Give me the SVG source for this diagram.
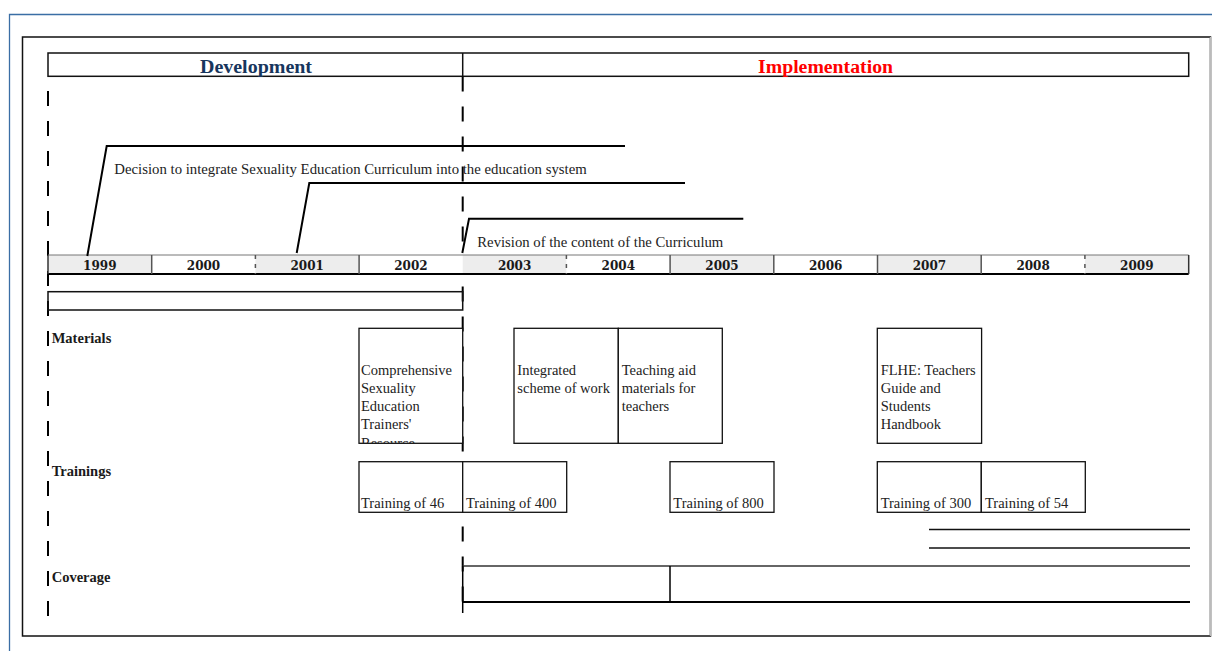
<svg xmlns="http://www.w3.org/2000/svg" width="1212" height="651" viewBox="0 0 1212 651">
<style>
.t{font-family:"Liberation Serif","Times New Roman",serif;font-size:14.5px;fill:#222}
.lb{font-family:"Liberation Serif","Times New Roman",serif;font-size:14.5px;font-weight:bold;fill:#1a1a1a}
.yr{font-family:"DejaVu Serif","Liberation Serif",serif;font-size:12px;font-weight:bold;fill:#1a1a1a;text-anchor:middle}
.hd{font-family:"Liberation Serif","Times New Roman",serif;font-size:18px;font-weight:bold;text-anchor:middle}
.box{fill:#fff;stroke:#111;stroke-width:1.3}
.dash{stroke:#000;stroke-width:2;fill:none;stroke-dasharray:15 15}
.call{stroke:#000;stroke-width:2;fill:none}
.sep{stroke:#555;stroke-width:1.5}
.ln{stroke:#111;stroke-width:1.5;fill:none}
</style>
<defs>
<clipPath id="cpComp"><rect x="359" y="328" width="104" height="115"/></clipPath>
</defs>
<rect x="0" y="0" width="1212" height="651" fill="#fff"/>
<!-- outer frames -->
<path d="M1212 14.5 H9.5 V651" fill="none" stroke="#3a6ea5" stroke-width="1.3"/>
<rect x="22.5" y="37" width="1188" height="599" fill="none" stroke="#111" stroke-width="1.5"/>
<line x1="1210.5" y1="37" x2="1210.5" y2="636" stroke="#bbb" stroke-width="1.5"/>

<!-- header -->
<g id="header">
<rect x="48" y="53" width="1140.7" height="23.3" fill="#fff" stroke="#111" stroke-width="1.5"/>
<line x1="462.7" y1="53" x2="462.7" y2="76.3" stroke="#111" stroke-width="1.5"/>
<text class="hd" x="256" y="72.7" fill="#17365d" textLength="112" lengthAdjust="spacingAndGlyphs">Development</text>
<text class="hd" x="825.5" y="72.7" fill="#ff0000" textLength="135" lengthAdjust="spacingAndGlyphs">Implementation</text>
</g>

<!-- dashed guides -->
<g id="guides">
<line class="dash" x1="48" y1="91" x2="48" y2="622"/>
<line class="dash" x1="462.7" y1="76.5" x2="462.7" y2="613"/>
</g>

<!-- timeline -->
<g id="timeline">
<rect x="48" y="255" width="1140.7" height="19" fill="#fff"/>
<rect x="48" y="255" width="103.7" height="19" fill="#ededed"/>
<rect x="255.4" y="255" width="103.7" height="19" fill="#ededed"/>
<rect x="462.7" y="255" width="103.7" height="19" fill="#ededed"/>
<rect x="670.1" y="255" width="103.7" height="19" fill="#ededed"/>
<rect x="877.5" y="255" width="103.7" height="19" fill="#ededed"/>
<rect x="1084.9" y="255" width="103.7" height="19" fill="#ededed"/>
<line x1="48" y1="255" x2="1188.7" y2="255" stroke="#777" stroke-width="1"/>
<line x1="48" y1="274" x2="1188.7" y2="274" stroke="#000" stroke-width="2"/>
<line x1="48" y1="255" x2="48" y2="274" stroke="#333" stroke-width="1.5"/>
<line x1="1188.7" y1="255" x2="1188.7" y2="274" stroke="#333" stroke-width="1.5"/>
<line class="sep" x1="151.7" y1="255" x2="151.7" y2="274"/>
<line class="sep" x1="255.4" y1="255" x2="255.4" y2="274" stroke-dasharray="4 5"/>
<line class="sep" x1="359.1" y1="255" x2="359.1" y2="274"/>
<line class="sep" x1="566.4" y1="255" x2="566.4" y2="274" stroke-dasharray="4 5"/>
<line class="sep" x1="670.1" y1="255" x2="670.1" y2="274"/>
<line class="sep" x1="773.8" y1="255" x2="773.8" y2="274"/>
<line class="sep" x1="877.5" y1="255" x2="877.5" y2="274"/>
<line class="sep" x1="981.2" y1="255" x2="981.2" y2="274"/>
<line class="sep" x1="1084.9" y1="255" x2="1084.9" y2="274" stroke-dasharray="4 5"/>
<text class="yr" x="99.8" y="269.5">1999</text>
<text class="yr" x="203.5" y="269.5">2000</text>
<text class="yr" x="307.2" y="269.5">2001</text>
<text class="yr" x="410.9" y="269.5">2002</text>
<text class="yr" x="514.6" y="269.5">2003</text>
<text class="yr" x="618.3" y="269.5">2004</text>
<text class="yr" x="722" y="269.5">2005</text>
<text class="yr" x="825.7" y="269.5">2006</text>
<text class="yr" x="929.4" y="269.5">2007</text>
<text class="yr" x="1033.1" y="269.5">2008</text>
<text class="yr" x="1136.8" y="269.5">2009</text>
</g>

<!-- callout connectors -->
<g id="connectors">
<path class="call" d="M87.3 256 L106.7 146 H625"/>
<path class="call" d="M296.7 253 L309.3 183 H685"/>
<path class="call" d="M462.3 253 L469 218.7 H743.3"/>
</g>
<g id="callout-texts">
<text class="t" x="114.3" y="174.3" textLength="472.4" lengthAdjust="spacingAndGlyphs">Decision to integrate Sexuality Education Curriculum into the education system</text>
<text class="t" x="477.3" y="246.7" textLength="246" lengthAdjust="spacingAndGlyphs">Revision of the content of the Curriculum</text>
</g>

<!-- development band -->
<g id="dev-band">
<rect x="48" y="291.7" width="414.7" height="18.3" fill="none" stroke="#111" stroke-width="1.5"/>
</g>

<!-- row labels -->
<g id="labels">
<text class="lb" x="51.7" y="343.3">Materials</text>
<text class="lb" x="51.7" y="475.5">Trainings</text>
<text class="lb" x="51.7" y="582">Coverage</text>
</g>

<!-- materials -->
<g id="mat-comprehensive">
<rect class="box" x="359" y="328.3" width="103.7" height="115"/>
<g clip-path="url(#cpComp)">
<text class="t" x="361" y="375">Comprehensive</text>
<text class="t" x="361" y="393.3">Sexuality</text>
<text class="t" x="361" y="411.3">Education</text>
<text class="t" x="361" y="429.3">Trainers'</text>
<text class="t" x="361" y="447.5">Resource</text>
</g>
</g>
<g id="mat-integrated">
<rect class="box" x="514" y="328.3" width="104.3" height="115"/>
<text class="t" x="517.3" y="375">Integrated</text>
<text class="t" x="517.3" y="393.3">scheme of work</text>
</g>
<g id="mat-teaching">
<rect class="box" x="618.3" y="328.3" width="104" height="115"/>
<text class="t" x="621.7" y="375">Teaching aid</text>
<text class="t" x="621.7" y="393.3">materials for</text>
<text class="t" x="621.7" y="411.3">teachers</text>
</g>
<g id="mat-flhe">
<rect class="box" x="877.3" y="328.3" width="104.3" height="115"/>
<text class="t" x="880.7" y="375">FLHE: Teachers</text>
<text class="t" x="880.7" y="393.3">Guide and</text>
<text class="t" x="880.7" y="411.3">Students</text>
<text class="t" x="880.7" y="429.3">Handbook</text>
</g>

<!-- trainings -->
<g id="tr-46">
<rect class="box" x="359" y="461.7" width="103.7" height="50.6"/>
<text class="t" x="361" y="508">Training of 46</text>
</g>
<g id="tr-400">
<rect class="box" x="462.7" y="461.7" width="104" height="50.6"/>
<text class="t" x="466" y="508">Training of 400</text>
</g>
<g id="tr-800">
<rect class="box" x="670" y="461.7" width="104" height="50.6"/>
<text class="t" x="673.3" y="508">Training of 800</text>
</g>
<g id="tr-300">
<rect class="box" x="877.3" y="461.7" width="104" height="50.6"/>
<text class="t" x="880.7" y="508">Training of 300</text>
</g>
<g id="tr-54">
<rect class="box" x="981.3" y="461.7" width="104" height="50.6"/>
<text class="t" x="985" y="508">Training of 54</text>
</g>

<!-- right band -->
<g id="impl-band">
<line class="ln" x1="929" y1="529.5" x2="1190" y2="529.5"/>
<line class="ln" x1="929" y1="548" x2="1190" y2="548" stroke-width="2"/>
</g>

<!-- coverage -->
<g id="coverage">
<line x1="462.7" y1="566" x2="1190" y2="566" stroke="#333" stroke-width="1.5"/>
<line x1="462.7" y1="602" x2="1190" y2="602" stroke="#000" stroke-width="2"/>
<line x1="462.7" y1="566" x2="462.7" y2="613" stroke="#000" stroke-width="1.5"/>
<line x1="670" y1="566" x2="670" y2="602" stroke="#000" stroke-width="1.5"/>
</g>
</svg>
